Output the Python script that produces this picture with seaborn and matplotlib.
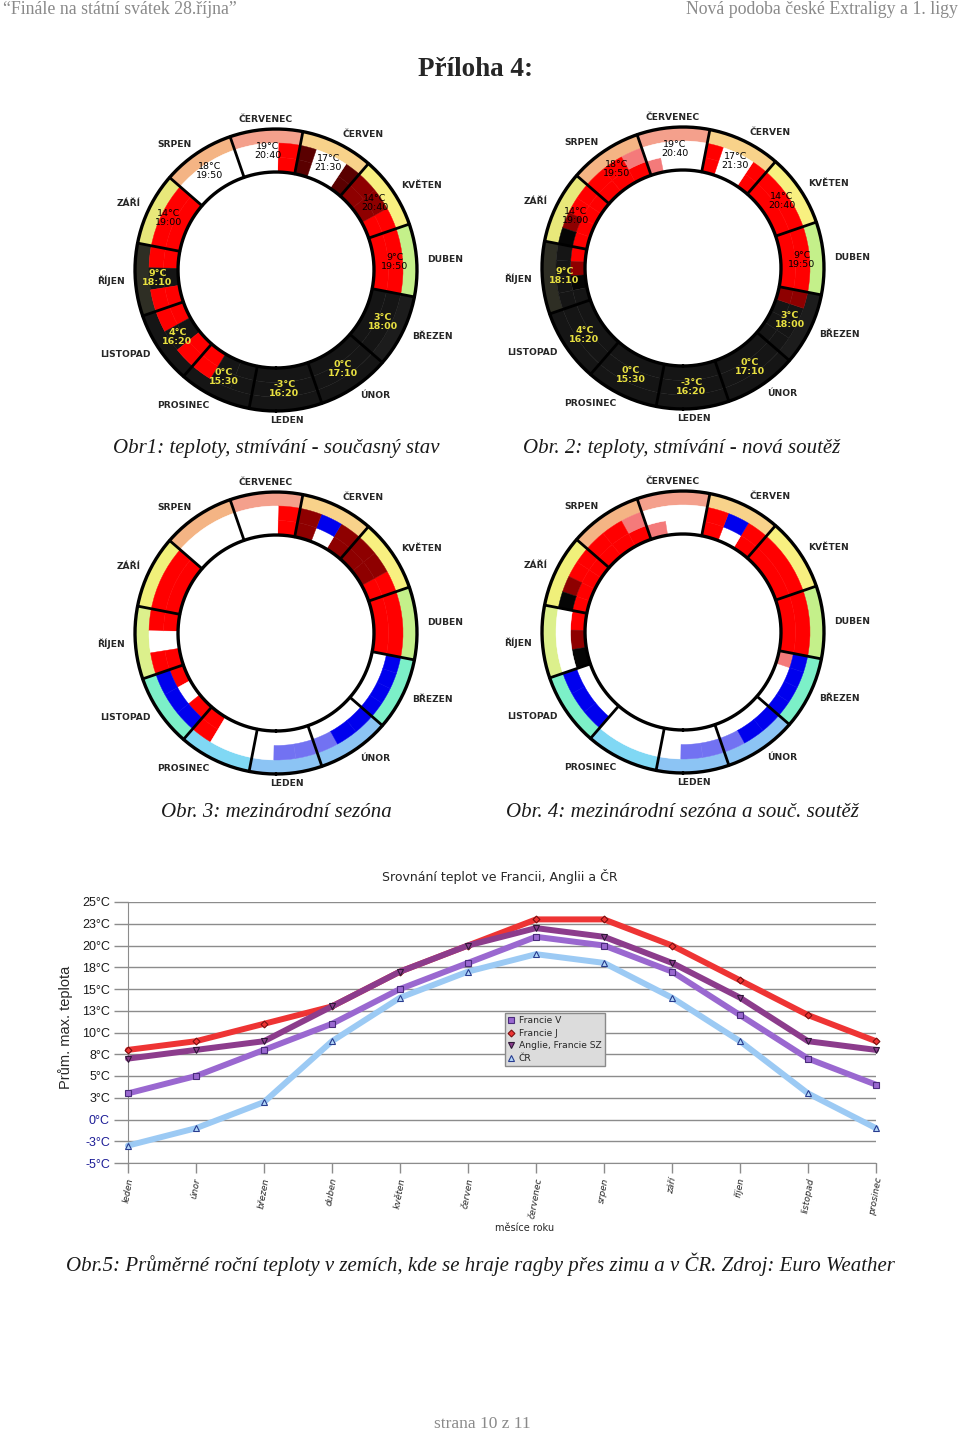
import numpy as np
import pandas as pd
import matplotlib
matplotlib.use('Agg')
import matplotlib.pyplot as plt
from matplotlib.lines import Line2D
import seaborn as sns

# Data: prumerne max. teploty (graf Obr.5)
mesice = ['leden', 'únor', 'březen', 'duben', 'květen', 'červen',
          'červenec', 'srpen', 'září', 'říjen', 'listopad', 'prosinec']
francie_v = [3, 5, 8, 11, 15, 18, 21, 20, 17, 12, 7, 4]
francie_j = [8, 9, 11, 13, 17, 20, 23, 23, 20, 16, 12, 9]
anglie_sz = [7, 8, 9, 13, 17, 20, 22, 21, 18, 14, 9, 8]
cr = [-3, -1, 2, 9, 14, 17, 19, 18, 14, 9, 3, -1]
y_ticks = [-5, -2.5, 0, 2.5, 5, 7.5, 10, 12.5, 15, 17.5, 20, 22.5, 25]
y_labels = ['-5°C', '-3°C', '0°C', '3°C', '5°C', '8°C', '10°C', '13°C',
            '15°C', '18°C', '20°C', '23°C', '25°C']

# Data: kruhove diagramy (Obr. 1-4)
mesice_kruh = ['LEDEN', 'ÚNOR', 'BŘEZEN', 'DUBEN', 'KVĚTEN', 'ČERVEN',
               'ČERVENEC', 'SRPEN', 'ZÁŘÍ', 'ŘÍJEN', 'LISTOPAD', 'PROSINEC']
teploty_kruh = ['-3°C', '0°C', '3°C', '9°C', '14°C', '17°C',
                '19°C', '18°C', '14°C', '9°C', '4°C', '0°C']
stmivani = ['16:20', '17:10', '18:00', '19:50', '20:40', '21:30',
            '20:40', '19:50', '19:00', '18:10', '16:20', '15:30']
noc = [True, True, True, False, False, False,
       False, False, False, True, True, True]

barvy_bloku = {'R': '#ff0000', 'M': '#8e0000', 'D': '#5a0000', 'K': '#151515',
               'W': '#ffffff', 'B': '#0000ee', 'P': '#7272f2', 'S': '#f47a7a',
               'X': '#050505'}

sezona_soucasna = ['#151515', '#151515', '#1c1c1c', '#c4f08a', '#f8f080', '#f8d28a',
                   '#f4a08c', '#f4b484', '#e8e87a', '#2e2e24', '#151515', '#151515']
sezona_mezinarodni = ['#8cc4f4', '#8cc4f4', '#7cf0c8', '#c4f08a', '#f8f080', '#f8d28a',
                      '#f4a08c', '#f4b484', '#f0f07a', '#dcf08c', '#7cf0c8', '#80d8f4']

obr1_vnitrni = ['K', 'K', 'K', 'R', 'RMM', 'DWWD', 'RWW', 'W', 'R', 'RKR', 'RKR', 'RKK']
obr1_vnejsi = ['K', 'K', 'K', 'R', 'RMM', 'DWWD', 'RWW', 'W', 'R', 'RKR', 'RKR', 'RKK']
obr2_vnitrni = ['K', 'K', 'KKKM', 'R', 'R', 'RWWR', 'WWWS', 'RRR', 'RRRR', 'RMXK', 'K', 'K']
obr2_vnejsi = ['K', 'K', 'KKKM', 'R', 'R', 'RWWR', 'WWWW', 'SRR', 'RRMX', 'KKKK', 'K', 'K']
obr3_vnitrni = ['WWW', 'WWW', 'WWWW', 'R', 'RMM', 'MWM', 'RWW', 'W', 'R', 'RWR', 'RWR', 'RWW']
obr3_vnejsi = ['WPP', 'PBB', 'BBBB', 'R', 'RMM', 'MBM', 'RWW', 'W', 'R', 'RWR', 'BBB', 'RWW']
obr4_vnitrni = ['WWW', 'WWW', 'WWWS', 'R', 'R', 'RWR', 'WWS', 'RRR', 'RRRR', 'RMX', 'WWW', 'W']
obr4_vnejsi = ['WPP', 'PBB', 'BBBB', 'R', 'R', 'RBR', 'WWW', 'SRR', 'RRMX', 'WWW', 'BBB', 'W']

W, H = 960, 1432


def px_rect(x0, y0, w, h):
    return [x0 / W, 1 - (y0 + h) / H, w / W, h / H]


sns.set_style('white')
plt.rcParams['font.family'] = ['DejaVu Sans']

fig = plt.figure(figsize=(9.6, 14.32), dpi=100)

# Hlavicka a paticka
seda = '#8a8a8a'
fig.text(3 / W, 1 - 9 / H, '“Finále na státní svátek 28.října”', family='Liberation Serif',
         fontsize=12.8, color=seda, ha='left', va='center')
fig.text(958 / W, 1 - 9 / H, 'Nová podoba české Extraligy a 1. ligy', family='Liberation Serif',
         fontsize=12.8, color=seda, ha='right', va='center')
fig.text(476 / W, 1 - 70 / H, 'Příloha 4:', family='Liberation Serif', fontsize=19.5,
         fontweight='bold', ha='center', va='center')
fig.text(482 / W, 1 - 1424 / H, 'strana 10 z 11', family='Liberation Serif',
         fontsize=12.5, color=seda, ha='center', va='center')

# Kruhove diagramy
R_IN, R_HALF, R_MID, R_OUT = 98, 112.5, 127, 141
THETA0 = 4
S = 180


def kruh(cx, cy, sezona, vnitrni, vnejsi, popisky):
    ax = fig.add_axes(px_rect(cx - S, cy - S, 2 * S, 2 * S), projection='polar')
    ax.set_theta_zero_location('S')
    ax.set_theta_direction(1)
    ax.set_rlim(0, S)
    ax.axis('off')
    for i in range(12):
        c = THETA0 + 30 * i
        ax.bar(np.deg2rad(c), R_OUT - R_MID, width=np.deg2rad(30), bottom=R_MID,
               color=sezona[i], edgecolor=sezona[i], linewidth=0.3)
        for radek, (r0, r1) in ((vnitrni[i], (R_IN, R_HALF)), (vnejsi[i], (R_HALF, R_MID))):
            w = 30 / len(radek)
            for j, kod in enumerate(radek):
                tc = c - 15 + w * (j + 0.5)
                ax.bar(np.deg2rad(tc), r1 - r0, width=np.deg2rad(w), bottom=r0,
                       color=barvy_bloku[kod], edgecolor=barvy_bloku[kod], linewidth=0.3)
        if popisky:
            ax.text(np.deg2rad(c), 119, teploty_kruh[i] + '\n' + stmivani[i],
                    ha='center', va='center', fontsize=6.8, linespacing=1.0,
                    color='#e8e040' if noc[i] else 'black', fontweight='bold' if noc[i] else 'normal')
        s = np.sin(np.deg2rad(c))
        ha = 'left' if s > 0.2 else ('right' if s < -0.2 else 'center')
        ax.text(np.deg2rad(c), 151, mesice_kruh[i], ha=ha, va='center',
                fontsize=6.6, fontweight='bold')
    t = np.linspace(0, 2 * np.pi, 400)
    ax.plot(t, np.full_like(t, R_IN), color='black', lw=2.4)
    ax.plot(t, np.full_like(t, R_OUT), color='black', lw=2.4)
    for i in range(12):
        b = np.deg2rad(THETA0 - 15 + 30 * i)
        ax.plot([b, b], [R_IN, R_OUT], color='black', lw=2)


kruh(276, 270, sezona_soucasna, obr1_vnitrni, obr1_vnejsi, True)
kruh(683, 268, sezona_soucasna, obr2_vnitrni, obr2_vnejsi, True)
kruh(276, 633, sezona_mezinarodni, obr3_vnitrni, obr3_vnejsi, False)
kruh(683, 632, sezona_mezinarodni, obr4_vnitrni, obr4_vnejsi, False)

popis = dict(family='Liberation Serif', style='italic', fontsize=15, color='#1a1a1a',
             ha='center', va='center')
fig.text(276 / W, 1 - 448 / H, 'Obr1: teploty, stmívání - současný stav', **popis)
fig.text(682 / W, 1 - 448 / H, 'Obr. 2: teploty, stmívání - nová soutěž', **popis)
fig.text(276 / W, 1 - 812 / H, 'Obr. 3: mezinárodní sezóna', **popis)
fig.text(682 / W, 1 - 812 / H, 'Obr. 4: mezinárodní sezóna a souč. soutěž', **popis)
fig.text(480 / W, 1 - 1264 / H, 'Obr.5: Průměrné roční teploty v zemích, kde se hraje ragby '
         'přes zimu a v ČR. Zdroj: Euro Weather', **popis)

# Carovy graf
ax = fig.add_axes(px_rect(128, 902, 748, 261))
serie = [
    ('Francie V', francie_v, '#9a68d0', 's', '#9a68d0', '#4a2c7c', 4),
    ('Francie J', francie_j, '#ee3434', 'D', '#ee3434', '#7a1010', 3.5),
    ('Anglie, Francie SZ', anglie_sz, '#8c3c8c', 'v', '#8c3c8c', '#2e1838', 4.5),
    ('ČR', cr, '#9ccaf4', '^', '#b4d8f8', '#283c90', 4.5),
]
handles = []
for nazev, hodnoty, barva, marker, mfc, mec, ms in serie:
    df = pd.DataFrame({'mesic': range(12), 'teplota': hodnoty})
    sns.lineplot(data=df, x='mesic', y='teplota', ax=ax, color=barva, lw=4.3,
                 marker=marker, markersize=ms, markerfacecolor=mfc, markeredgecolor=mec,
                 markeredgewidth=0.8, clip_on=False, legend=False, zorder=3)
    handles.append(Line2D([], [], ls='', marker=marker, markersize=ms, markerfacecolor=mfc,
                          markeredgecolor=mec, markeredgewidth=0.8, label=nazev))

ax.set_xlim(0, 11)
ax.set_ylim(-5, 25)
ax.set_yticks(y_ticks)
ax.set_yticklabels(y_labels, family='Liberation Sans', fontsize=9)
for lab, v in zip(ax.get_yticklabels(), y_ticks):
    lab.set_color('#1c1c96' if v <= 0 else '#1a1a1a')
ax.set_xticks(range(12))
ax.set_xticklabels(mesice, rotation=80, ha='center', va='top', fontsize=6.5, style='italic')
ax.yaxis.grid(True, color='#8c8c8c', lw=1, zorder=0)
ax.xaxis.grid(False)
ax.tick_params(axis='y', length=10, color='#8c8c8c', width=1, pad=3, left=True)
ax.tick_params(axis='x', length=7, color='#8c8c8c', width=1, pad=3, bottom=True)
for sp in ['top', 'right']:
    ax.spines[sp].set_visible(False)
ax.spines['left'].set_color('#8c8c8c')
ax.spines['bottom'].set_color('#8c8c8c')
ax.set_xlabel('')
ax.set_ylabel('')

leg = ax.legend(handles=handles, loc='upper left', bbox_to_anchor=(0.504, 0.575),
                borderaxespad=0, fontsize=6.6, frameon=True, fancybox=False,
                handlelength=0.7, handletextpad=0.45, labelspacing=0.4, borderpad=0.35)
leg.get_frame().set_facecolor('#dcdcdc')
leg.get_frame().set_edgecolor('#8a8a8a')
leg.get_frame().set_alpha(1)

fig.text(500 / W, 1 - 876 / H, 'Srovnání teplot ve Francii, Anglii a ČR', fontsize=9,
         ha='center', va='center')
fig.text(525 / W, 1 - 1228 / H, 'měsíce roku', fontsize=7, ha='center', va='center')
fig.text(66 / W, 1 - 1027 / H, 'Prům. max. teplota', family='Liberation Sans', fontsize=10.5,
         rotation=90, ha='center', va='center')

fig.savefig('out.png', dpi=100, facecolor='white')
